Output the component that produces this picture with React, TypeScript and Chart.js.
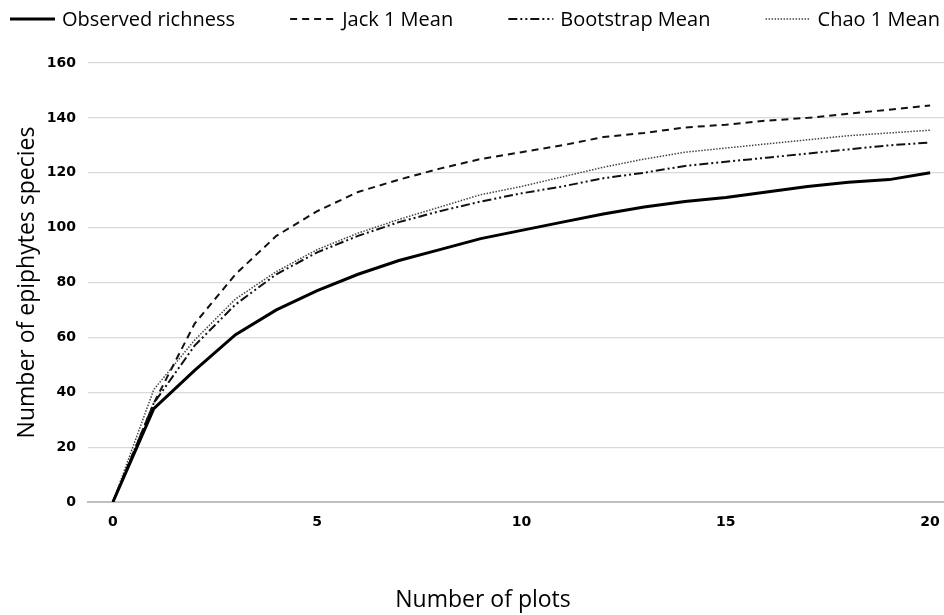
import React, { useEffect, useRef } from "react";
import { Chart, registerables } from "chart.js";

Chart.register(...registerables);

const plots = [0, 1, 2, 3, 4, 5, 6, 7, 8, 9, 10, 11, 12, 13, 14, 15, 16, 17, 18, 19, 20];
const observed = [0, 34, 48, 61, 70, 77, 83, 88, 92, 96, 99, 102, 105, 107.5, 109.5, 111, 113, 115, 116.5, 117.5, 120];
const jack1 = [0, 36, 65, 83, 97, 106, 113, 117.5, 121.5, 125, 127.5, 130, 133, 134.5, 136.5, 137.5, 139, 140, 141.5, 143, 144.5];
const bootstrap = [0, 36, 57, 72, 83, 91, 97, 102, 106, 109.5, 112.5, 115, 118, 120, 122.5, 124, 125.5, 127, 128.5, 130, 131];
const chao1 = [0, 41, 59, 74, 84, 92, 98, 103, 107.5, 112, 115, 118.5, 122, 125, 127.5, 129, 130.5, 132, 133.5, 134.5, 135.5];
const xTicks = [0, 5, 10, 15, 20];
const yTicks = [0, 20, 40, 60, 80, 100, 120, 140, 160];
const xTitle = "Number of plots";
const yTitle = "Number of epiphytes species";

const overlayPlugin = {
  id: "legendAndTitle",
  afterDraw(chart: any) {
    const ctx = chart.ctx as CanvasRenderingContext2D;
    ctx.save();
    ctx.font = '20px "Open Sans"';
    const sets = chart.data.datasets as any[];
    const lineLen = 45;
    const gap = 7;
    const left = 10;
    const right = 940;
    const widths = sets.map((d) => ctx.measureText(d.label).width);
    const total = widths.reduce((a, w) => a + lineLen + gap + w, 0);
    const space = (right - left - total) / (sets.length - 1);
    let x = left;
    const y = 19;
    sets.forEach((d, i) => {
      ctx.strokeStyle = d.borderColor;
      ctx.lineWidth = d.borderWidth;
      ctx.setLineDash(d.borderDash || []);
      ctx.beginPath();
      ctx.moveTo(x, y);
      ctx.lineTo(x + lineLen, y);
      ctx.stroke();
      ctx.setLineDash([]);
      ctx.fillStyle = "#000000";
      ctx.textBaseline = "middle";
      ctx.textAlign = "left";
      ctx.fillText(d.label, x + lineLen + gap, y + 1);
      x += lineLen + gap + widths[i] + space;
    });
    ctx.font = '23px "Open Sans"';
    ctx.textAlign = "center";
    ctx.textBaseline = "middle";
    ctx.fillText(xTitle, 483, 600);
    ctx.restore();
  },
};

export default function App() {
  const ref = useRef<HTMLCanvasElement | null>(null);
  useEffect(() => {
    document.body.style.margin = "0";
    const ctx = ref.current!.getContext("2d")!;
    const mk = (label: string, data: number[], width: number, dash: number[], color: string) => ({
      label,
      data: plots.map((x, i) => ({ x, y: data[i] })),
      borderColor: color,
      backgroundColor: color,
      borderWidth: width,
      borderDash: dash,
      pointRadius: 0,
      tension: 0,
      fill: false,
    });
    const chart = new Chart(ctx, {
      type: "line",
      data: {
        datasets: [
          mk("Observed richness", observed, 3, [], "#000000"),
          mk("Jack 1 Mean", jack1, 2, [7, 5], "#111111"),
          mk("Bootstrap Mean", bootstrap, 2, [9, 3, 2, 3, 2, 3], "#111111"),
          mk("Chao 1 Mean", chao1, 1.5, [1.5, 1.5], "#444444"),
        ],
      },
      plugins: [overlayPlugin],
      options: {
        animation: false,
        responsive: false,
        layout: { padding: { left: 0, right: 0, top: 63, bottom: 0 } },
        plugins: {
          tooltip: { enabled: false },
          legend: { display: false },
        },
        scales: {
          x: {
            type: "linear",
            min: -0.61,
            max: 20.34,
            afterBuildTicks: (s: any) => {
              s.ticks = xTicks.map((v) => ({ value: v }));
            },
            afterFit: (s: any) => {
              s.height = 113;
              s.paddingLeft = 0;
              s.paddingRight = 0;
            },
            grid: { display: false, drawTicks: false },
            border: { display: true, color: "#bfbfbf", width: 2 },
            ticks: {
              padding: 12,
              color: "#000000",
              font: { family: "DejaVu Sans", size: 14, weight: "bold" },
            },
          },
          y: {
            min: 0,
            max: 160,
            afterBuildTicks: (s: any) => {
              s.ticks = yTicks.map((v) => ({ value: v }));
            },
            afterFit: (s: any) => {
              s.width = 88;
              s.paddingTop = 0;
              s.paddingBottom = 0;
            },
            grid: { color: "#d9d9d9", lineWidth: 1.2, drawTicks: false },
            border: { display: false },
            ticks: {
              padding: 12,
              color: "#000000",
              font: { family: "DejaVu Sans", size: 14, weight: "bold" },
            },
            title: {
              display: true,
              text: yTitle,
              color: "#000000",
              font: { family: "Open Sans", size: 23 },
              padding: { top: 14, bottom: 0 },
            },
          },
        },
      },
    });
    return () => chart.destroy();
  }, []);
  return <canvas ref={ref} width={944} height={615} style={{ display: "block" }} />;
}
